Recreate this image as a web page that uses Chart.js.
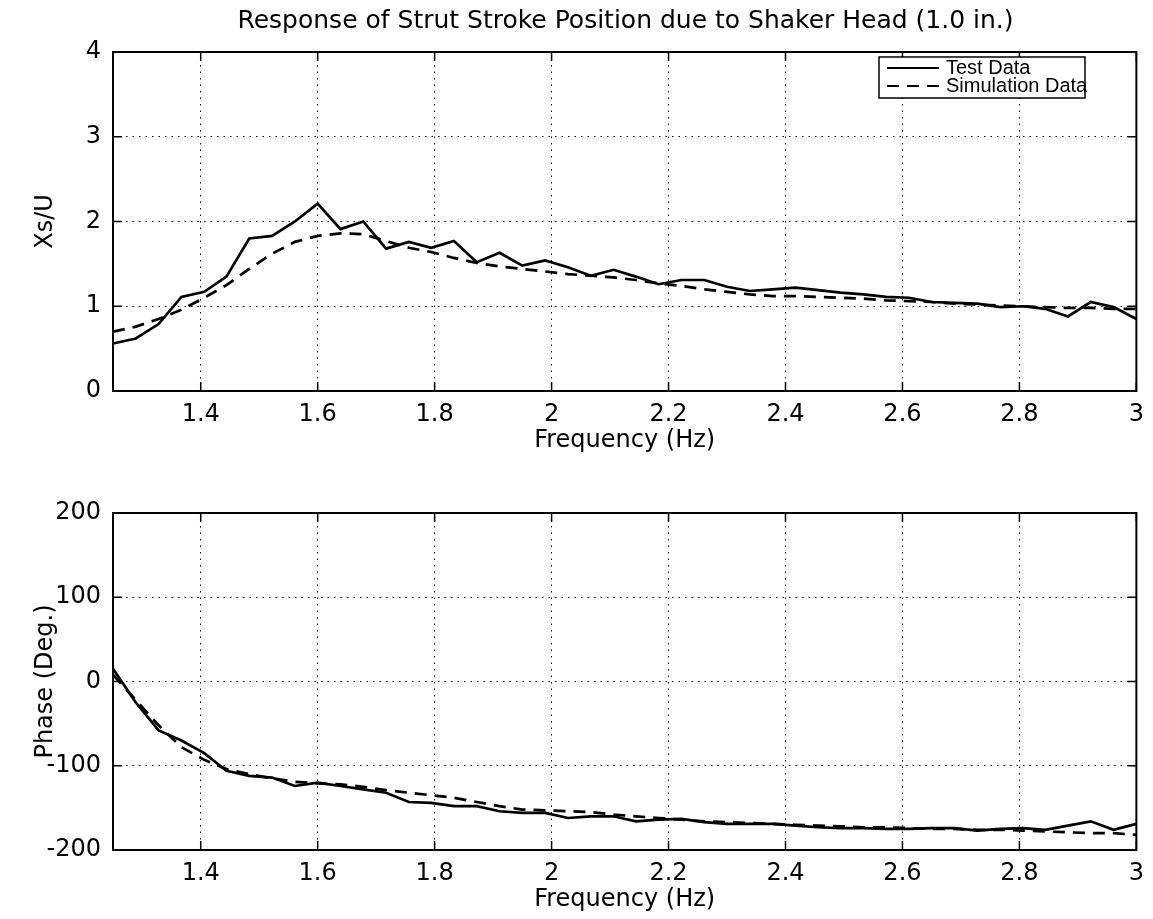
<!DOCTYPE html>
<html lang="en">
<head>
  <meta charset="UTF-8">
  <title>Strut Stroke Response</title>
  <script src="https://cdn.jsdelivr.net/npm/chart.js"></script>
  <style>
    body {
      margin: 0;
      padding: 0;
      background: #ffffff;
    }

    .wrap {
      position: relative;
      width: 1153px;
      height: 919px;
    }

    .title {
      position: absolute;
      left: 113px;
      top: 5px;
      width: 1025px;
      text-align: center;
      font-family: 'DejaVu Sans', sans-serif;
      font-size: 25px;
      line-height: 30px;
      color: #000;
      white-space: nowrap;
    }

    #magChart {
      position: absolute;
      left: 0;
      top: 0;
    }

    #phaseChart {
      position: absolute;
      left: 0;
      top: 460px;
    }
  </style>
</head>
<body>

  <div class="wrap">
    <canvas id="magChart" width="1153" height="460"></canvas>
    <canvas id="phaseChart" width="1153" height="459"></canvas>
    <div class="title">Response of Strut Stroke Position due to Shaker Head (1.0 in.)</div>
  </div>

  <script>
    // frequency points (Hz)
    const freq = [
      1.25, 1.289, 1.328, 1.367, 1.406, 1.444, 1.483, 1.522, 1.561, 1.6,
      1.639, 1.678, 1.717, 1.756, 1.794, 1.833, 1.872, 1.911, 1.95, 1.989,
      2.028, 2.067, 2.106, 2.144, 2.183, 2.222, 2.261, 2.3, 2.339, 2.378,
      2.417, 2.456, 2.494, 2.533, 2.572, 2.611, 2.65, 2.689, 2.728, 2.767,
      2.806, 2.844, 2.883, 2.922, 2.961, 3.0
    ];

    // magnitude Xs/U
    const magTest = [
      0.56, 0.62, 0.79, 1.11, 1.17, 1.35, 1.80, 1.83, 2.00, 2.21,
      1.91, 2.00, 1.68, 1.76, 1.69, 1.77, 1.52, 1.63, 1.48, 1.54,
      1.46, 1.36, 1.43, 1.35, 1.26, 1.31, 1.31, 1.23, 1.18, 1.20,
      1.22, 1.19, 1.16, 1.14, 1.11, 1.10, 1.05, 1.04, 1.03, 0.99,
      1.00, 0.97, 0.88, 1.05, 0.99, 0.85
    ];
    const magSim = [
      0.70, 0.76, 0.85, 0.96, 1.10, 1.25, 1.44, 1.62, 1.76, 1.83,
      1.86, 1.85, 1.77, 1.69, 1.64, 1.57, 1.51, 1.47, 1.44, 1.41,
      1.38, 1.36, 1.34, 1.31, 1.27, 1.24, 1.20, 1.17, 1.14, 1.12,
      1.12, 1.11, 1.10, 1.09, 1.07, 1.06, 1.05, 1.03, 1.02, 1.01,
      1.00, 0.99, 0.98, 0.98, 0.97, 0.97
    ];

    // phase (deg)
    const phaseTest = [
      15, -25, -58, -70, -85, -106, -112, -114, -124, -120,
      -124, -128, -132, -143, -144, -148, -148, -154, -156, -156,
      -162, -160, -160, -166, -164, -163, -167, -169, -169, -169,
      -171, -173, -174, -174, -175, -175, -174, -174, -177, -175,
      -174, -176, -171, -166, -176, -169
    ];
    const phaseSim = [
      8, -22, -52, -78, -93, -104, -110, -115, -119, -121,
      -122, -125, -129, -132, -135, -138, -143, -148, -152, -153,
      -154, -155, -158, -160, -162, -164, -166, -167, -168, -169,
      -170, -171, -172, -173, -173, -174, -175, -175, -176, -176,
      -177, -178, -179, -180, -180, -182
    ];

    const xTicks = [1.4, 1.6, 1.8, 2, 2.2, 2.4, 2.6, 2.8, 3];
    const magTicks = [0, 1, 2, 3, 4];
    const phaseTicks = [-200, -100, 0, 100, 200];

    const axisFont = "'DejaVu Sans', sans-serif";
    const legendFont = "'Liberation Sans', Arial, sans-serif";
    Chart.defaults.font.family = axisFont;
    Chart.defaults.color = '#000';

    function pts(ys) {
      return freq.map((f, i) => ({ x: f, y: ys[i] }));
    }

    // box around the plot with small ticks pointing inward (matlab style)
    const framePlugin = {
      id: 'frame',
      afterDraw(chart) {
        const { ctx, chartArea: a, scales } = chart;
        ctx.save();
        ctx.strokeStyle = '#000';
        ctx.lineWidth = 2;
        ctx.strokeRect(a.left, a.top, a.right - a.left, a.bottom - a.top);
        ctx.lineWidth = 1.5;
        const len = 9;
        ctx.beginPath();
        scales.x.ticks.forEach(t => {
          const px = scales.x.getPixelForValue(t.value);
          ctx.moveTo(px, a.bottom); ctx.lineTo(px, a.bottom - len);
          ctx.moveTo(px, a.top); ctx.lineTo(px, a.top + len);
        });
        scales.y.ticks.forEach(t => {
          const py = scales.y.getPixelForValue(t.value);
          ctx.moveTo(a.left, py); ctx.lineTo(a.left + len, py);
          ctx.moveTo(a.right, py); ctx.lineTo(a.right - len, py);
        });
        ctx.stroke();
        ctx.restore();
      }
    };

    // legend box inside the top plot
    const legendPlugin = {
      id: 'boxLegend',
      afterDraw(chart) {
        if (!chart.options.plugins.boxLegend) return;
        const { ctx } = chart;
        const x0 = 879, y0 = 57, w = 206, h = 41;
        ctx.save();
        ctx.fillStyle = '#fff';
        ctx.fillRect(x0, y0, w, h);
        ctx.strokeStyle = '#000';
        ctx.lineWidth = 1.5;
        ctx.strokeRect(x0, y0, w, h);

        ctx.lineWidth = 2;
        ctx.beginPath();
        ctx.moveTo(x0 + 8, y0 + 11);
        ctx.lineTo(x0 + 60, y0 + 11);
        ctx.stroke();
        ctx.setLineDash([12, 8]);
        ctx.beginPath();
        ctx.moveTo(x0 + 8, y0 + 29);
        ctx.lineTo(x0 + 60, y0 + 29);
        ctx.stroke();
        ctx.setLineDash([]);

        ctx.fillStyle = '#000';
        ctx.font = '20px ' + legendFont;
        ctx.textBaseline = 'middle';
        ctx.fillText('Test Data', x0 + 67, y0 + 11);
        ctx.fillText('Simulation Data', x0 + 67, y0 + 29);
        ctx.restore();
      }
    };

    function makeChart(id, opts) {
      const ctx = document.getElementById(id).getContext('2d');
      return new Chart(ctx, {
        type: 'line',
        data: {
          datasets: [{
            label: 'Test Data',
            data: pts(opts.test),
            borderColor: '#000',
            borderWidth: 2.7,
            pointRadius: 0,
            tension: 0
          }, {
            label: 'Simulation Data',
            data: pts(opts.sim),
            borderColor: '#000',
            borderWidth: 2.7,
            borderDash: [12, 8],
            pointRadius: 0,
            tension: 0
          }]
        },
        options: {
          responsive: false,
          animation: false,
          layout: {
            padding: { top: opts.padTop, right: 5, bottom: 0, left: 0 }
          },
          plugins: {
            legend: { display: false },
            tooltip: { enabled: false },
            boxLegend: opts.legend
          },
          scales: {
            x: {
              type: 'linear',
              min: 1.25,
              max: 3,
              afterBuildTicks: s => { s.ticks = xTicks.map(v => ({ value: v })); },
              afterFit: s => { s.height = 69; },
              grid: {
                color: '#000',
                lineWidth: 1,
                drawTicks: false
              },
              border: { display: false, dash: [1.5, 5] },
              ticks: {
                padding: 9,
                maxRotation: 0,
                font: { size: 24 },
                color: '#000',
                callback: v => String(v)
              },
              title: {
                display: true,
                text: 'Frequency (Hz)',
                font: { size: 24 },
                color: '#000',
                padding: { top: 0, bottom: 5 }
              }
            },
            y: {
              min: opts.ticks[0],
              max: opts.ticks[opts.ticks.length - 1],
              afterBuildTicks: s => { s.ticks = opts.ticks.map(v => ({ value: v })); },
              afterFit: s => { s.width = 113; },
              grid: {
                color: '#000',
                lineWidth: 1,
                drawTicks: false
              },
              border: { display: false, dash: [1.5, 5] },
              ticks: {
                padding: 12,
                font: { size: 24 },
                color: '#000',
                callback: v => String(v)
              },
              title: {
                display: true,
                text: opts.yTitle,
                font: { size: 24 },
                color: '#000',
                padding: { top: 31, bottom: 0 }
              }
            }
          }
        },
        plugins: [framePlugin, legendPlugin]
      });
    }

    makeChart('magChart', {
      test: magTest,
      sim: magSim,
      ticks: magTicks,
      yTitle: 'Xs/U',
      padTop: 52,
      legend: true
    });

    makeChart('phaseChart', {
      test: phaseTest,
      sim: phaseSim,
      ticks: phaseTicks,
      yTitle: 'Phase (Deg.)',
      padTop: 53,
      legend: false
    });
  </script>

</body>
</html>
